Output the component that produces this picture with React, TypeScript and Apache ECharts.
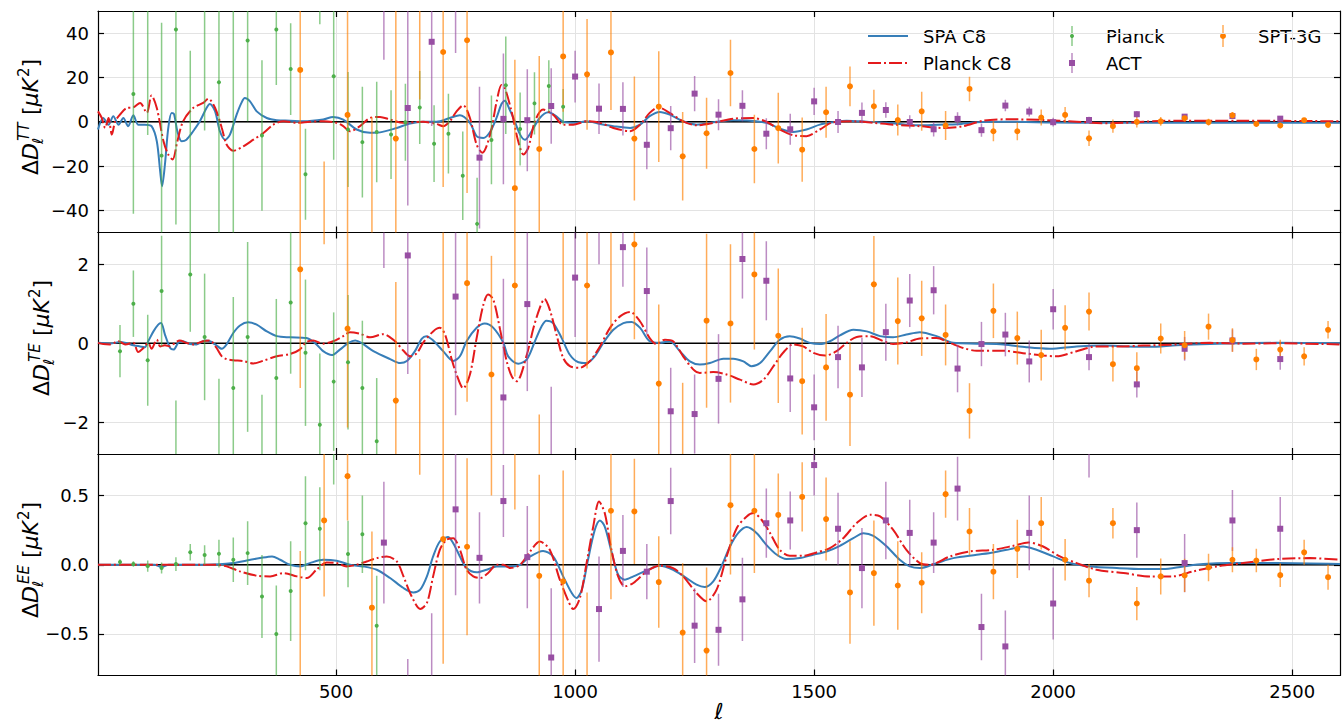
import React, { useEffect, useRef } from 'react';
import * as echarts from 'echarts';

// ---------- data: [ell, value, error] ----------
const ttPlanck = [[76,12.5,54],[106,56,62],[135,-15.3,60],[165,41.6,88],[195,-52,84],[225,55,59],[255,17.8,70],[285,-56,110],[315,36.7,36.5],[345,-6.2,34],[375,41.6,25],[405,23.8,20.7],[436,-23.7,20.5],[466,57,13],[495,20.5,37.6],[525,-3.5,26],[555,-9.2,25],[585,-4.6,22.7],[615,-5.8,20],[645,-0.2,17.4],[675,6.4,16.5],[705,-9.9,17.3],[735,-5.4,18],[765,-24.4,20],[795,-46.1,20.8],[825,-8.2,20],[855,16.5,22],[885,-3.3,16.5],[915,8.3,14],[945,16.1,11.7],[975,6.8,8]];
const ttACT = [[600,58,30],[650,6.2,44],[700,36.1,38],[750,58,27],[800,-16.2,32],[850,1.3,29.5],[900,0.7,23],[950,7.1,17],[1000,20.4,11.7],[1050,5.9,11.4],[1100,5.8,12],[1150,-10.4,11],[1200,-2.9,10],[1250,12.7,8],[1300,3.2,7],[1350,7.2,7],[1400,-5.4,7],[1450,-3.4,7],[1500,9.2,6.2],[1550,-0.1,5],[1600,4.0,4.7],[1650,5.3,3.5],[1700,-0.1,3],[1750,-3.4,3.3],[1800,1.3,3],[1850,-3.8,3],[1900,7.3,2.6],[1950,4.6,2.2],[2000,-0.2,2],[2075,0.8,1.5],[2175,3.4,1.5],[2275,2.3,1.2],[2375,2.6,1],[2475,1.4,1]];
const ttSPT = [[425,23.4,80],[475,-60,42],[524,3.1,66],[575,-55,57],[625,-7.6,70],[675,60,50],[724,31.5,61],[774,36.8,69],[874,-30,58],[925,-12.3,42],[975,29.5,25],[1025,21.4,25],[1075,31.3,26],[1124,-7.6,28],[1175,6.8,25],[1225,-15.6,20],[1275,-5.2,16],[1325,22,15],[1375,-12.3,15.5],[1425,-2.9,16],[1475,-12.6,14.5],[1525,4.3,11.5],[1575,16,9],[1625,7,7.5],[1675,0.8,7],[1725,4.7,8.8],[1775,-1.7,6.5],[1825,14.8,5.5],[1875,-4.3,4.5],[1925,-4.3,4],[1975,1.9,3.6],[2025,3.1,3.6],[2075,-7.5,3.5],[2125,-2,3],[2175,-0.1,2.5],[2225,0.2,2],[2275,1.6,1.5],[2325,-0.2,1.5],[2375,2.9,1.5],[2425,-1,1.2],[2475,-1.7,1.2],[2525,0.7,1],[2575,-1.4,1]];

const tePlanck = [[48,-0.2,0.66],[76,1.0,0.84],[106,-0.43,1.15],[135,1.32,1.4],[165,-3.2,1.75],[195,1.74,1.45],[225,0.16,1.6],[255,-3.0,2.1],[285,-1.13,2.3],[315,0.16,2.4],[345,-3.3,2.0],[375,-0.88,2.0],[405,1.03,1.8],[436,-0.24,1.85],[466,-2.06,1.8],[495,-0.97,1.75],[525,-0.48,1.7],[555,-1.13,1.7],[585,-2.48,1.6]];
const teACT = [[600,3.3,1.4],[650,2.22,3],[750,1.18,3],[850,-1.37,3],[900,0.99,2.2],[950,-3.0,1.9],[1000,1.66,1.5],[1050,3.1,1.1],[1100,2.43,1.0],[1150,1.32,1.1],[1200,-1.72,1.1],[1250,-1.79,1.0],[1300,-0.9,1.13],[1350,2.13,1.0],[1400,1.58,1.0],[1450,-0.89,0.85],[1500,-1.62,0.83],[1550,-0.35,0.79],[1600,-0.61,0.75],[1650,0.28,0.72],[1700,1.08,0.67],[1750,1.34,0.61],[1800,-0.64,0.6],[1850,-0.02,0.56],[1900,0.22,0.55],[1950,-0.46,0.53],[2000,0.86,0.51],[2075,-0.35,0.33],[2175,-1.04,0.33],[2275,-0.14,0.3],[2375,0.07,0.28],[2475,-0.4,0.27]];
const teSPT = [[425,1.87,3],[475,3.6,1.1],[524,0.37,2.5],[625,-1.45,3],[675,-3.4,3.0],[724,3.5,7],[774,1.52,3],[825,-0.79,3],[874,1.46,2.3],[925,-3.5,1.7],[975,3.3,3.2],[1025,1.46,2.1],[1075,3.0,2.7],[1124,2.5,2.4],[1175,-1.02,2],[1225,-3.2,2.2],[1275,0.57,2.2],[1325,0.5,2],[1375,1.74,1.9],[1425,0.19,1.7],[1475,-0.96,1.35],[1525,-0.61,1.35],[1575,-1.3,1.3],[1625,1.49,1.22],[1675,0.56,1.1],[1725,0.63,0.95],[1775,0.21,0.77],[1825,-1.71,0.7],[1875,0.82,0.69],[1925,0.13,0.67],[1975,-0.3,0.64],[2025,0.39,0.57],[2075,0.8,0.48],[2125,-0.53,0.44],[2175,-0.63,0.4],[2225,0.12,0.38],[2275,-0.05,0.36],[2325,0.42,0.33],[2375,0.08,0.3],[2425,-0.41,0.27],[2475,-0.16,0.25],[2525,-0.33,0.23],[2575,0.34,0.22]];

const eePlanck = [[48,0.02,0.02],[76,0.005,0.02],[106,-0.01,0.04],[135,-0.024,0.04],[165,0.005,0.05],[195,0.09,0.06],[225,0.07,0.07],[255,0.08,0.1],[285,0.036,0.16],[315,0.084,0.23],[345,-0.23,0.3],[375,-0.5,0.35],[405,-0.19,0.36],[436,0.3,0.34],[466,0.26,0.3],[495,0.88,0.3],[525,0.077,0.24],[555,0.22,0.28],[585,-0.44,0.36]];
const eeACT = [[600,0.16,0.44],[650,-1.1,0.42],[700,-0.95,0.6],[750,0.4,0.62],[800,0.05,0.33],[850,0.46,0.26],[900,0.055,0.37],[950,-0.67,0.5],[1050,-0.32,0.38],[1100,0.1,0.26],[1150,-0.05,0.2],[1200,0.46,0.24],[1250,-0.44,0.27],[1300,-0.47,0.26],[1350,-0.25,0.3],[1400,0.3,0.25],[1450,0.32,0.21],[1500,0.72,0.22],[1550,0.26,0.26],[1600,-0.024,0.29],[1650,0.32,0.28],[1700,0.23,0.24],[1750,0.16,0.22],[1800,0.55,0.23],[1850,-0.45,0.24],[1900,-0.59,0.26],[1950,0.23,0.27],[2000,-0.28,0.26],[2075,0.85,0.22],[2175,0.25,0.2],[2275,0.012,0.21],[2375,0.32,0.22],[2475,0.26,0.23]];
const eeSPT = [[425,-0.9,1.0],[475,0.32,0.55],[524,0.64,0.32],[575,-0.31,0.55],[675,0.95,0.3],[724,0.185,0.9],[774,0.13,0.64],[825,0.9,0.4],[874,0.85,0.45],[925,-0.08,0.73],[975,-0.12,0.8],[1025,-0.95,0.75],[1075,0.39,0.64],[1124,0.385,0.38],[1175,-0.125,0.33],[1225,-0.49,0.5],[1275,-0.62,0.6],[1325,0.43,0.5],[1375,0.39,0.45],[1425,0.36,0.3],[1475,0.49,0.25],[1525,0.33,0.3],[1575,-0.2,0.37],[1625,-0.06,0.38],[1675,-0.15,0.32],[1725,-0.13,0.22],[1775,0.51,0.17],[1825,0.24,0.17],[1875,-0.05,0.2],[1925,0.115,0.21],[1975,0.3,0.19],[2025,0.036,0.15],[2075,-0.115,0.12],[2125,0.3,0.11],[2175,-0.28,0.12],[2225,-0.084,0.13],[2275,-0.077,0.12],[2325,-0.02,0.1],[2375,0.036,0.09],[2425,0.03,0.085],[2475,-0.075,0.085],[2525,0.09,0.09],[2575,-0.09,0.09]];

// ---------- model curves: [ell, value] ----------
const ttSPA = [[2,-3.5],[13,1.7],[24,-1.3],[34,2.5],[45,-1.3],[55,1.7],[65,-2.0],[76,2.9],[86,-1.3],[100,-1.3],[114,-2.0],[125,-8.8],[132,-22.3],[136,-29.1],[142,-19.3],[149,-2.8],[156,4.0],[161,3.5],[168,-4.3],[177,-8.8],[187,-8.1],[201,-4.3],[215,0.2],[229,6.2],[236,8.0],[247,4.7],[257,-4.3],[268,-8.1],[278,-5.8],[292,3.2],[302,8.5],[309,10.7],[320,9.2],[334,4.7],[355,1.7],[376,0.7],[404,0.5],[431,0.2],[473,1.0],[494,2.2],[515,1.0],[543,-3.5],[571,-5.0],[592,-4.8],[627,-2.8],[655,-0.8],[682,0],[710,0],[738,1.7],[759,2.9],[780,-0.5],[794,-6.5],[808,-7.3],[822,-4.6],[836,2.0],[846,8.0],[853,9.5],[862,6.0],[871,1.7],[885,-5.8],[895,-8.1],[909,-4.3],[926,1.7],[944,4.3],[958,2.9],[975,0],[1003,-0.5],[1024,0.2],[1052,-1.0],[1080,-2.0],[1115,-2.8],[1136,-1.3],[1156,2.5],[1177,4.4],[1198,3.2],[1226,0.2],[1254,-1.3],[1296,0],[1331,0.7],[1366,0.5],[1400,-0.5],[1428,-3.1],[1456,-4.6],[1484,-3.5],[1512,-1.3],[1540,-0.2],[1568,0.5],[1610,0],[1651,-0.5],[1693,-1.3],[1721,-1.6],[1760,-1.3],[1800,-1.1],[1840,-0.2],[1900,0],[2000,-0.3],[2100,-0.5],[2300,-0.5],[2600,-0.5]];
const ttC8 = [[2,4.7],[10,1.7],[17,-2.8],[24,1.7],[31,-5.8],[38,0.2],[48,3.2],[62,6.2],[76,6.5],[90,8.5],[104,4.0],[114,11.9],[125,6.2],[139,-8.8],[149,-14.8],[158,-17.0],[168,-8.8],[180,0.2],[201,6.2],[222,8.5],[233,10.4],[247,6.2],[261,-2.8],[271,-10.3],[285,-13.1],[306,-11.1],[327,-8.1],[348,-5.1],[369,-1.3],[390,0.2],[418,-0.5],[445,0],[473,0.2],[501,-0.5],[515,-2],[529,-4.3],[550,-2.0],[571,1.7],[592,2.2],[613,1.0],[641,-0.5],[682,0],[710,-1.0],[724,-2.0],[738,0.2],[752,4.7],[766,7.4],[780,1.7],[794,-10.3],[806,-14.0],[822,-6.0],[836,9.2],[846,16.6],[853,15.2],[867,4.7],[881,-8.8],[892,-14.8],[902,-11.8],[916,0.2],[933,5.5],[954,3.2],[975,-1.3],[996,-1.3],[1024,0.2],[1052,-0.5],[1080,-2.8],[1115,-4.3],[1136,-1.3],[1156,4.0],[1174,6.5],[1198,4.0],[1226,0.2],[1254,-1.6],[1289,-0.5],[1331,1.4],[1373,1.7],[1400,0],[1428,-3.5],[1456,-6.1],[1484,-6.5],[1512,-3.5],[1540,-0.2],[1582,0.2],[1624,-0.5],[1665,-1.3],[1721,-2.0],[1770,-2.8],[1812,-2.0],[1854,0.5],[1909,1.1],[1979,0.8],[2049,0],[2119,-0.7],[2188,0],[2258,0.5],[2397,0.5],[2600,0.2]];

const teSPA = [[2,0.01],[27,-0.01],[48,0.03],[62,0],[76,-0.05],[90,-0.08],[100,-0.1],[107,0.05],[118,0.3],[128,0.47],[134,0.51],[142,0.22],[153,-0.12],[160,-0.16],[170,0.01],[180,0.05],[194,-0.02],[208,-0.03],[226,0.07],[236,0.05],[247,-0.03],[261,-0.14],[271,-0.03],[285,0.26],[299,0.45],[316,0.53],[334,0.47],[355,0.3],[376,0.18],[404,0.15],[438,0.13],[459,-0.03],[473,-0.2],[491,-0.3],[508,-0.16],[526,0.01],[540,0.07],[553,0.01],[578,-0.2],[613,-0.4],[634,-0.5],[648,-0.45],[665,-0.2],[679,0.11],[689,0.18],[703,0.07],[724,-0.2],[745,-0.45],[759,-0.33],[773,0.05],[794,0.39],[811,0.5],[829,0.39],[850,0.01],[860,-0.33],[881,-0.52],[899,-0.41],[916,0.05],[930,0.43],[940,0.57],[954,0.51],[972,0.13],[989,-0.29],[1007,-0.48],[1024,-0.5],[1041,-0.33],[1059,0.01],[1080,0.34],[1101,0.51],[1118,0.54],[1136,0.39],[1156,0.05],[1177,0.01],[1198,0.05],[1219,-0.2],[1240,-0.46],[1261,-0.54],[1282,-0.5],[1310,-0.39],[1331,-0.39],[1352,-0.46],[1369,-0.58],[1387,-0.5],[1408,-0.2],[1428,0.09],[1449,0.18],[1470,0.12],[1491,0.01],[1512,-0.02],[1533,0.05],[1554,0.2],[1582,0.34],[1610,0.3],[1638,0.18],[1665,0.15],[1693,0.22],[1721,0.28],[1756,0.18],[1791,0.01],[1840,-0.01],[1896,-0.03],[1944,-0.1],[1993,-0.14],[2049,-0.08],[2105,-0.06],[2154,-0.08],[2202,-0.09],[2258,-0.05],[2328,-0.02],[2397,0],[2467,0.01],[2600,0]];
const teC8 = [[2,0.01],[13,-0.02],[27,-0.03],[45,0.05],[59,-0.03],[76,0.01],[86,-0.22],[97,-0.12],[107,0.01],[114,-0.14],[125,0.09],[132,-0.08],[142,-0.05],[153,-0.08],[163,0.01],[173,0.07],[187,0.01],[201,-0.03],[222,0.05],[236,0.07],[250,-0.12],[261,-0.33],[271,-0.4],[285,-0.43],[306,-0.45],[327,-0.51],[348,-0.44],[376,-0.33],[404,-0.27],[424,-0.16],[438,0.03],[452,0.07],[473,-0.01],[494,0.05],[515,0.18],[529,0.28],[550,0.24],[571,0.15],[599,0.23],[613,0.15],[627,0.01],[641,-0.19],[655,-0.33],[669,-0.25],[682,0.01],[703,0.3],[717,0.39],[728,0.22],[742,-0.41],[752,-0.79],[766,-1.14],[780,-0.79],[794,0.13],[808,0.97],[818,1.23],[829,1.1],[843,0.35],[857,-0.46],[868,-0.85],[878,-0.96],[899,-0.29],[913,0.39],[926,0.89],[936,1.12],[947,0.85],[961,0.22],[975,-0.37],[989,-0.58],[1010,-0.62],[1031,-0.45],[1052,-0.08],[1073,0.39],[1094,0.68],[1115,0.79],[1136,0.55],[1156,0.13],[1170,-0.02],[1188,0.09],[1205,0.05],[1226,-0.33],[1247,-0.66],[1261,-0.75],[1289,-0.73],[1317,-0.79],[1345,-0.92],[1373,-1.04],[1394,-0.92],[1415,-0.58],[1435,-0.24],[1456,-0.03],[1477,-0.08],[1498,-0.24],[1523,-0.31],[1547,-0.2],[1568,0.01],[1589,0.16],[1617,0.18],[1645,0.05],[1665,-0.02],[1693,0.02],[1721,0.12],[1756,0.13],[1784,0.01],[1812,-0.12],[1840,-0.19],[1896,-0.19],[1937,-0.25],[1979,-0.31],[2007,-0.33],[2049,-0.2],[2091,-0.08],[2133,-0.08],[2188,-0.06],[2258,-0.03],[2328,0.01],[2397,-0.01],[2467,0],[2600,-0.03]];

const eeSPA = [[2,0],[120,0],[135,-0.017],[150,0],[230,0],[285,0.012],[313,0.031],[341,0.048],[366,0.06],[383,0.036],[404,0],[425,-0.012],[445,0.012],[473,0.036],[501,0.029],[529,0],[557,-0.012],[585,-0.036],[613,-0.096],[641,-0.168],[662,-0.2],[676,-0.18],[690,-0.084],[703,0.06],[717,0.168],[734,0.2],[745,0.156],[759,0.06],[773,-0.024],[794,-0.055],[815,-0.036],[836,-0.012],[864,-0.012],[885,0],[906,0.06],[933,0.1],[954,0.06],[975,-0.084],[993,-0.204],[1003,-0.24],[1014,-0.18],[1027,0.036],[1041,0.25],[1052,0.32],[1062,0.276],[1076,0.096],[1090,-0.072],[1104,-0.108],[1122,-0.084],[1150,-0.041],[1177,-0.007],[1205,-0.036],[1233,-0.096],[1254,-0.144],[1271,-0.161],[1289,-0.12],[1306,-0.012],[1324,0.132],[1341,0.228],[1359,0.272],[1380,0.228],[1400,0.144],[1422,0.072],[1442,0.041],[1470,0.048],[1498,0.072],[1526,0.096],[1554,0.137],[1582,0.192],[1603,0.228],[1624,0.209],[1652,0.132],[1679,0.036],[1700,-0.012],[1721,-0.024],[1756,0.012],[1791,0.048],[1840,0.072],[1875,0.089],[1910,0.113],[1937,0.132],[1965,0.108],[2000,0.06],[2035,0.012],[2077,-0.012],[2133,-0.024],[2188,-0.031],[2230,-0.031],[2272,-0.012],[2314,0.005],[2370,0.012],[2467,0.012],[2600,0.005]];
const eeC8 = [[2,0],[250,0],[271,-0.012],[299,-0.048],[334,-0.079],[362,-0.084],[390,-0.06],[418,-0.084],[439,-0.096],[459,-0.036],[480,0.017],[501,0.012],[522,-0.012],[543,0],[564,0.024],[585,0.048],[606,0.06],[627,0.024],[641,-0.084],[658,-0.228],[676,-0.319],[690,-0.276],[703,-0.084],[717,0.108],[731,0.18],[745,0.192],[759,0.108],[773,-0.036],[787,-0.084],[801,-0.096],[818,-0.06],[836,0],[850,0],[864,-0.024],[885,0],[906,0.096],[926,0.168],[947,0.108],[968,-0.108],[986,-0.264],[996,-0.32],[1010,-0.24],[1024,0.012],[1038,0.276],[1050,0.457],[1062,0.373],[1076,0.108],[1090,-0.084],[1104,-0.156],[1122,-0.132],[1150,-0.048],[1177,-0.007],[1205,-0.024],[1226,-0.084],[1254,-0.204],[1275,-0.264],[1296,-0.18],[1317,0.06],[1338,0.264],[1359,0.349],[1373,0.373],[1390,0.325],[1408,0.228],[1428,0.108],[1449,0.065],[1477,0.065],[1505,0.089],[1533,0.12],[1561,0.192],[1589,0.301],[1617,0.361],[1638,0.349],[1665,0.253],[1693,0.108],[1721,0.012],[1742,0],[1784,0.06],[1826,0.096],[1875,0.108],[1917,0.137],[1948,0.161],[1979,0.132],[2014,0.06],[2049,0.012],[2091,-0.036],[2147,-0.06],[2202,-0.084],[2251,-0.084],[2293,-0.048],[2342,-0.012],[2397,0.012],[2467,0.041],[2537,0.048],[2600,0.036]];

// ---------- axes ----------
const xTicks = [500, 1000, 1500, 2000, 2500];
const ttTicks = [-40, -20, 0, 20, 40];
const teTicks = [-2, 0, 2];
const eeTicks = [-0.5, 0, 0.5];
const panelNames = ['TT', 'TE', 'EE'];

const C = { spa: '#377eb8', c8: '#e41a1c', planck: '#4daf4a', act: '#984ea3', spt: '#ff7f00' };
const FONT = 'DejaVu Sans';

export default function App() {
  const ref = useRef<HTMLDivElement>(null);
  useEffect(() => {
    const chart = echarts.init(ref.current!, null, { renderer: 'svg' });
    const L = 98, W = 1242;
    const grids = [
      { left: L, width: W, top: 11, height: 221.5 },
      { left: L, width: W, top: 232.5, height: 221.5 },
      { left: L, width: W, top: 454, height: 221.5 },
    ];
    const minus = (s: string) => s.replace('-', '\u2212');
    const panels = [
      { min: -50, max: 50, ticks: ttTicks, fmt: (v: number) => minus(String(v)), planck: ttPlanck, act: ttACT, spt: ttSPT, spa: ttSPA, c8: ttC8 },
      { min: -2.8, max: 2.8, ticks: teTicks, fmt: (v: number) => minus(String(v)), planck: tePlanck, act: teACT, spt: teSPT, spa: teSPA, c8: teC8 },
      { min: -0.8, max: 0.8, ticks: eeTicks, fmt: (v: number) => minus(v.toFixed(1)), planck: eePlanck, act: eeACT, spt: eeSPT, spa: eeSPA, c8: eeC8 },
    ];
    const black = { color: '#000', width: 1.2 };
    const xAxes: any[] = [];
    const yAxes: any[] = [];
    const series: any[] = [];
    panels.forEach((p, i) => {
      [false, true].forEach((isTop) => {
        xAxes.push({
          gridIndex: i, type: 'value', min: 2, max: 2600, position: isTop ? 'top' : 'bottom',
          axisLine: { show: true, onZero: false, lineStyle: black },
          axisTick: { show: true, inside: true, length: 6, lineStyle: black, customValues: xTicks },
          axisLabel: { show: !isTop && i === 2, customValues: xTicks, formatter: (v: number) => String(v), color: '#000', fontSize: 18, fontFamily: FONT, margin: 7 },
          splitLine: { show: !isTop, lineStyle: { color: '#e3e3e3', width: 1 } },
        });
        yAxes.push({
          gridIndex: i, type: 'value', min: p.min, max: p.max, position: isTop ? 'right' : 'left',
          axisLine: { show: true, onZero: false, lineStyle: black },
          axisTick: { show: true, inside: true, length: 6, lineStyle: black, customValues: p.ticks },
          axisLabel: { show: !isTop, customValues: p.ticks, formatter: p.fmt, color: '#000', fontSize: 18, fontFamily: FONT, margin: 9 },
          splitLine: { show: !isTop, lineStyle: { color: '#e3e3e3', width: 1 } },
        });
      });
      const xi = 2 * i, yi = 2 * i;
      series.push({ type: 'line', xAxisIndex: xi, yAxisIndex: yi, data: [[2, 0], [2600, 0]], symbol: 'none', lineStyle: { color: '#000', width: 1.5 }, z: 1, silent: true });
      series.push({ type: 'line', xAxisIndex: xi, yAxisIndex: yi, data: p.spa, symbol: 'none', smooth: 0.3, lineStyle: { color: C.spa, width: 2 }, z: 2, silent: true });
      series.push({ type: 'line', xAxisIndex: xi, yAxisIndex: yi, data: p.c8, symbol: 'none', smooth: 0.3, lineStyle: { color: C.c8, width: 2, type: [13, 3, 2, 3] }, z: 2, silent: true });
      const sets: [any[], string, string, number][] = [[p.planck, C.planck, 'circle', 4], [p.act, C.act, 'rect', 6], [p.spt, C.spt, 'circle', 6]];
      sets.forEach(([d, col, sym, size]) => {
        series.push({
          type: 'custom', xAxisIndex: xi, yAxisIndex: yi, data: d, clip: true, z: 3, silent: true,
          encode: { x: 0, y: 1 },
          renderItem: (_params: any, api: any) => {
            const x = api.value(0), y = api.value(1), e = api.value(2);
            const a = api.coord([x, y - e]);
            const b = api.coord([x, y + e]);
            return { type: 'line', shape: { x1: a[0], y1: a[1], x2: b[0], y2: b[1] }, style: { stroke: col, lineWidth: 1.5, opacity: 0.65 } };
          },
        });
        series.push({ type: 'scatter', xAxisIndex: xi, yAxisIndex: yi, data: d.map((r) => [r[0], r[1]]), symbol: sym, symbolSize: size, itemStyle: { color: col, opacity: 1 }, z: 4, silent: true, clip: true });
      });
    });

    // y-axis labels built from text pieces (rotated group)
    const yLabel = (kind: string, cx: number, startY: number) => ({
      type: 'group', x: cx, y: startY, rotation: Math.PI / 2,
      children: [
        { type: 'text', x: 0, y: 0, style: { text: '\u0394', font: `22px "${FONT}"`, fill: '#000', verticalAlign: 'middle', align: 'left' } },
        { type: 'text', x: 15, y: 0, style: { text: 'D', font: `italic 22px "${FONT}"`, fill: '#000', verticalAlign: 'middle', align: 'left' } },
        { type: 'text', x: 31, y: 7.5, style: { text: '\u2113', font: `italic 15px "${FONT}"`, fill: '#000', verticalAlign: 'middle', align: 'left' } },
        { type: 'text', x: 34, y: -6.5, style: { text: kind, font: `italic 15px "${FONT}"`, fill: '#000', verticalAlign: 'middle', align: 'left' } },
        { type: 'text', x: 60, y: 0, style: { text: '[', font: `22px "${FONT}"`, fill: '#000', verticalAlign: 'middle', align: 'left' } },
        { type: 'text', x: 68.5, y: 0, style: { text: '\u03bc', font: `italic 22px "${FONT}"`, fill: '#000', verticalAlign: 'middle', align: 'left' } },
        { type: 'text', x: 82.5, y: 0, style: { text: 'K', font: `italic 22px "${FONT}"`, fill: '#000', verticalAlign: 'middle', align: 'left' } },
        { type: 'text', x: 98, y: -6.5, style: { text: '2', font: `15px "${FONT}"`, fill: '#000', verticalAlign: 'middle', align: 'left' } },
        { type: 'text', x: 107.5, y: 0, style: { text: ']', font: `22px "${FONT}"`, fill: '#000', verticalAlign: 'middle', align: 'left' } },
      ],
    });
    const lt = (text: string, x: number, y: number) => ({ type: 'text', x, y, style: { text, font: `18px "${FONT}"`, fill: '#000', verticalAlign: 'middle', align: 'left' } });
    const graphic: any[] = [
      yLabel(panelNames[0], 30.5, 175),
      yLabel(panelNames[1], 41.5, 396),
      yLabel(panelNames[2], 30.5, 618),
      { type: 'text', x: 719, y: 711, style: { text: '\u2113', font: `italic 22px "${FONT}"`, fill: '#000', verticalAlign: 'middle', align: 'center' } },
      // legend
      { type: 'line', shape: { x1: 868, y1: 36, x2: 908, y2: 36 }, style: { stroke: C.spa, lineWidth: 2 } },
      { type: 'line', shape: { x1: 868, y1: 63, x2: 908, y2: 63 }, style: { stroke: C.c8, lineWidth: 2, lineDash: [13, 3, 2, 3] } },
      lt('SPA C8', 923, 36),
      lt('Planck C8', 923, 63),
      { type: 'line', shape: { x1: 1072, y1: 26, x2: 1072, y2: 46 }, style: { stroke: C.planck, lineWidth: 1.5, opacity: 0.65 } },
      { type: 'circle', shape: { cx: 1072, cy: 36, r: 2 }, style: { fill: C.planck } },
      lt('Planck', 1106, 36),
      { type: 'line', shape: { x1: 1072, y1: 53, x2: 1072, y2: 73 }, style: { stroke: C.act, lineWidth: 1.5, opacity: 0.65 } },
      { type: 'rect', shape: { x: 1069, y: 60, width: 6, height: 6 }, style: { fill: C.act } },
      lt('ACT', 1106, 63),
      { type: 'line', shape: { x1: 1223, y1: 25, x2: 1223, y2: 47 }, style: { stroke: C.spt, lineWidth: 1.5, opacity: 0.65 } },
      { type: 'circle', shape: { cx: 1223, cy: 36, r: 3 }, style: { fill: C.spt } },
      lt('SPT-3G', 1258, 36),
    ];

    chart.setOption({
      animation: false,
      backgroundColor: '#fff',
      grid: grids,
      xAxis: xAxes,
      yAxis: yAxes,
      series,
      graphic,
    });
    return () => chart.dispose();
  }, []);
  return <div ref={ref} style={{ position: 'fixed', left: 0, top: 0, width: 1343, height: 726, background: '#fff' }} />;
}
